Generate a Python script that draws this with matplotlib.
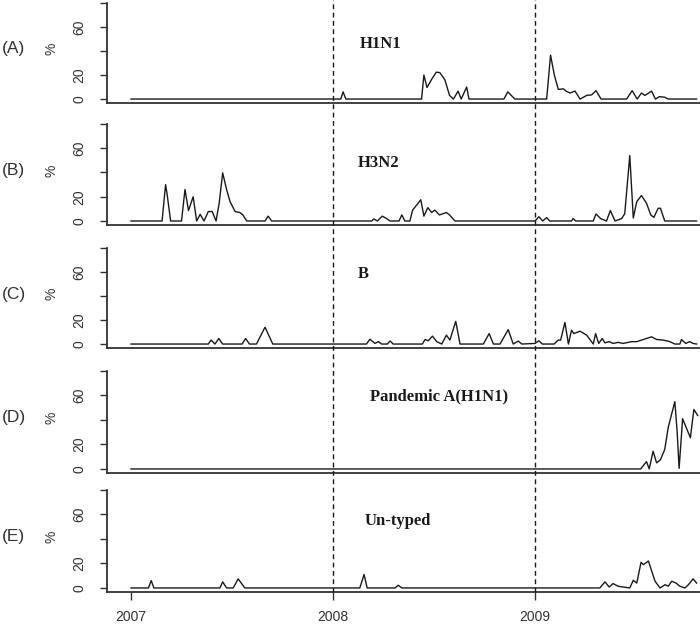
import numpy as np
import matplotlib
matplotlib.use("Agg")
import matplotlib.pyplot as plt
from matplotlib.lines import Line2D
from matplotlib import transforms

# semanas desde o inicio de 2007 e % de cada subtipo
h1n1_sem = [0, 54, 54.6, 55.3, 74.8, 75.4, 76.2, 77.5, 78.6, 79.5, 80.8, 82, 83, 84.2, 85, 86.4, 87,
            96, 97, 98.8, 107, 108, 109, 110, 111.3, 112, 113, 114.3, 115.6, 117.3, 118.6, 119.7, 121,
            127.6, 129, 130.3, 131.4, 132.3, 134, 135, 136, 137.4, 138.3, 145.6]
h1n1_val = [0, 0, 6, 0, 0, 20, 9.6, 17, 22.4, 22, 16, 3, 0, 6.6, 0, 10, 0,
            0, 6, 0, 0, 36.6, 19.7, 8, 8.5, 6.6, 5, 6.6, 0, 3, 3.5, 7, 0,
            0, 7, 0, 5, 3, 6.6, 0, 2, 1.5, 0, 0]

h3n2_sem = [0, 8, 8.9, 9.3, 10.2, 13, 13.9, 14.8, 16, 16.9, 17.8, 18.8, 19.9, 20.9, 21.9, 22.7, 23.6,
            24.6, 25.5, 26.8, 28, 28.8, 29.8, 34.5, 35.3, 36.2, 62, 62.5, 63.4, 64.7, 65.8, 66.7, 69,
            69.7, 70.5, 71.8, 72.5, 74.6, 75.4, 76.4, 77.4, 78.2, 79.4, 81.2, 82, 83.4, 104, 105, 106,
            107, 107.8, 113.4, 113.8, 114.5, 119, 119.7, 120.9, 122.4, 123.4, 124.6, 126.3, 127.1,
            128.4, 129.3, 130.2, 131.4, 132.7, 133.8, 134.6, 135.7, 136.3, 137.4, 145.6]
h3n2_val = [0, 0, 30, 22, 0, 0, 26, 8.6, 20, 0, 5.5, 0, 7.8, 7.8, 0, 14.7, 39.7,
            26, 16, 7.8, 7, 5, 0, 0, 4, 0, 0, 1.7, 0, 4, 2, 0, 0,
            5, 0, 0, 9, 17.5, 4, 11, 7, 9, 5, 7, 5, 0, 0, 3.5, 0,
            2.8, 0, 0, 2, 0, 0, 5.8, 2, 0, 8.6, 0, 2, 6,
            54, 2.5, 16, 21, 14.7, 5, 3, 10.5, 10.5, 0, 0]

b_sem = [0, 19.9, 20.6, 21.6, 22.6, 23.6, 28.6, 29.5, 30.5, 32.3, 34.5, 36.5, 60.6, 61.5, 62.8, 63.7,
         64.5, 66, 66.7, 67.5, 75, 75.7, 76.5, 77.6, 78.7, 80, 81.2, 82.1, 83.6, 84.7, 90.7, 92.2, 93.3,
         95, 97.1, 98.4, 99.7, 100.6, 104, 105, 105.9, 108.9, 110, 110.6, 111.7, 112.6, 113.4, 114,
         115.6, 117.3, 119, 119.6, 120.4, 121.3, 122, 123.1, 124.1, 125.4, 126.7, 128.9, 130.2, 131.9,
         134, 135.3, 137, 138.7, 140, 141.3, 141.7, 142.8, 143.8, 144.7, 145.6]
b_val = [0, 0, 3.3, 0, 4.6, 0, 0, 4.6, 0, 0, 14, 0, 0, 4, 0.5, 2,
         0, 0, 2.5, 0, 0, 3.8, 2.7, 6.6, 2, 0, 7.4, 3.3, 18.9, 0, 0, 8.7, 0,
         0, 12, 0, 2.5, 0, 0.5, 2.7, 0, 0, 3.3, 3.3, 18, 0, 11.5, 8.7,
         10.7, 7.4, 0, 8.7, 0.5, 4.6, 1, 2, 0.5, 1.4, 0.5, 2, 2, 3.8,
         6, 3.8, 3.3, 2, 0, 0, 3.8, 0.5, 2, 0.5, 0]

pand_sem = [0, 131.2, 132.7, 133.4, 134.4, 135.3, 136.3, 137.4, 138.3, 140, 140.6, 141.1, 142, 144,
            144.9, 145.9]
pand_val = [0, 0, 6, 0, 14.5, 5, 7.5, 16, 34, 55, 30, 0.5, 41, 25.5, 48.6, 43.6]

unt_sem = [0, 4.5, 5.2, 5.9, 22.9, 23.6, 24.6, 26.3, 27.6, 29.3, 58.9, 60, 60.8, 68, 68.8, 69.7,
           120.7, 122, 123.1, 124.1, 125.4, 128.4, 129.3, 130.2, 131.3, 131.9, 133.2, 134.9, 136.2,
           137.5, 138.3, 139.2, 140.3, 141.3, 142.6, 143.5, 144.7, 145.6]
unt_val = [0, 0, 6, 0, 0, 5, 0, 0, 7.4, 0, 0, 11, 0, 0, 2.2, 0,
           0, 5, 0.8, 3.6, 1.4, 0, 6.3, 4, 21, 19, 22, 5.5, 0,
           2.7, 1.4, 5.5, 4, 1.4, 0, 2.7, 7.4, 4]

letras = ["(A)", "(B)", "(C)", "(D)", "(E)"]
nomes = ["H1N1", "H3N2", "B", "Pandemic A(H1N1)", "Un-typed"]
series = [(h1n1_sem, h1n1_val), (h3n2_sem, h3n2_val), (b_sem, b_val),
          (pand_sem, pand_val), (unt_sem, unt_val)]
anos = [2007, 2008, 2009]

# posicao de cada painel em pixels (topo, base)
paineis = [(3, 103), (124, 225), (248, 348), (371, 473), (490, 592)]
nome_pos = [(360, 46), (358, 48), (358, 58), (370, 59), (365, 55)]

W, H = 700, 626
fig = plt.figure(figsize=(W / 100, H / 100), dpi=100)
cor = "#1a1a1a"
eixo = "#333333"
x0 = 2007 + (107 - 131) / 202
x1 = 2007 + (700 - 131) / 202

axes = []
for i, (sem, val) in enumerate(series):
    topo, base = paineis[i]
    ax = fig.add_axes([107 / W, 1 - base / H, (W - 107) / W, (base - topo) / H])
    axes.append(ax)
    x = 2007 + np.array(sem) / 52
    ax.plot(x, val, color=cor, lw=1.0)
    ax.set_xlim(x0, x1)
    ax.set_ylim(-3.3, 80)
    for s in ["top", "right"]:
        ax.spines[s].set_visible(False)
    for s in ["left", "bottom"]:
        ax.spines[s].set_color(eixo)
        ax.spines[s].set_linewidth(1.3)
    ax.set_yticks([0, 20, 40, 60, 80])
    ax.set_yticklabels(["0", "20", "", "60", ""], rotation=90, va="center",
                       fontsize=10, family="Liberation Sans", color=eixo)
    ax.tick_params(axis="y", length=5, width=1.0, color=eixo, pad=10)
    if i < 4:
        ax.set_xticks([])
    else:
        ax.set_xticks(anos)
        ax.set_xticklabels([str(a) for a in anos], fontsize=10, family="Liberation Sans", color=eixo)
        ax.tick_params(axis="x", length=6, width=1.0, color=eixo, pad=7)
    ax.text(-105 / 593, 0.54, letras[i], transform=ax.transAxes, ha="left", va="center",
            fontsize=12.5, family="Liberation Sans", color=eixo)
    ax.text(-55 / 593, 0.54, "%", transform=ax.transAxes, ha="center", va="center",
            rotation=90, fontsize=10, family="Liberation Sans", color=eixo)
    nx, ny = nome_pos[i]
    ax.text(2007 + (nx - 131) / 202, ny, nomes[i], ha="left", va="center",
            fontsize=12, family="Liberation Serif", fontweight="bold", color=cor)

# linhas verticais tracejadas atravessando todos os paineis
tr = transforms.blended_transform_factory(axes[-1].transData, fig.transFigure)
for a in [2008, 2009]:
    fig.add_artist(Line2D([a, a], [1 - 592 / H, 1.0], transform=tr, color=cor,
                          lw=1.0, linestyle=(0, (3.5, 2.5))))

fig.savefig("out.png", dpi=100)
